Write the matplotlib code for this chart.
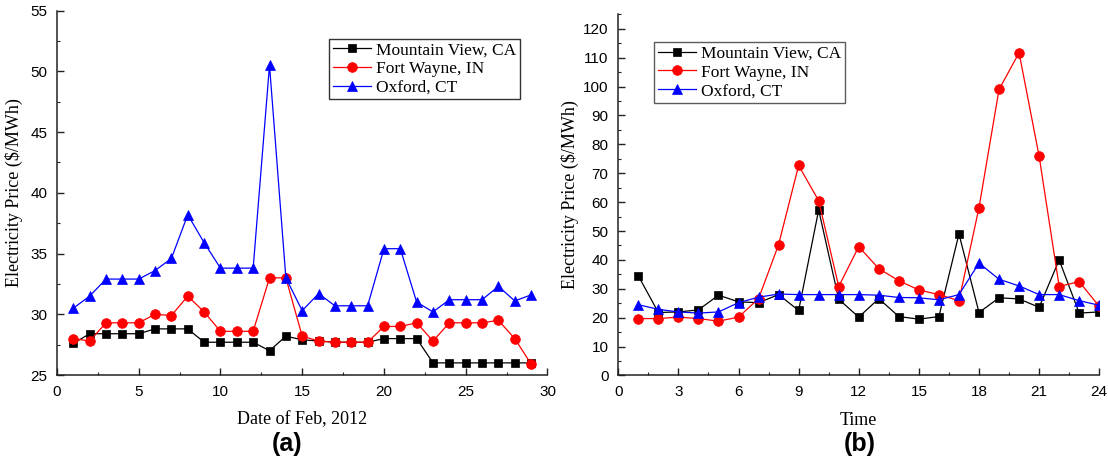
import matplotlib
matplotlib.use("Agg")
import matplotlib.pyplot as plt
from matplotlib.ticker import MultipleLocator

# ---- data ----
days = list(range(1, 30))
mv_a = [27.6, 28.4, 28.4, 28.4, 28.4, 28.8, 28.8, 28.8, 27.7, 27.7, 27.7, 27.7, 27.0, 28.2, 27.9,
        27.8, 27.7, 27.7, 27.7, 28.0, 28.0, 28.0, 26.0, 26.0, 26.0, 26.0, 26.0, 26.0, 26.0]
fw_a = [28.0, 27.8, 29.3, 29.3, 29.3, 30.0, 29.9, 31.5, 30.2, 28.6, 28.6, 28.6, 33.0, 33.0, 28.2,
        27.8, 27.7, 27.7, 27.7, 29.0, 29.0, 29.3, 27.8, 29.3, 29.3, 29.3, 29.5, 28.0, 25.9]
ox_a = [30.5, 31.5, 32.9, 32.9, 32.9, 33.6, 34.6, 38.2, 35.9, 33.8, 33.8, 33.8, 50.5, 33.0, 30.3,
        31.7, 30.7, 30.7, 30.7, 35.4, 35.4, 31.0, 30.2, 31.2, 31.2, 31.2, 32.3, 31.1, 31.6]

hours = list(range(1, 25))
mv_b = [34.5, 21.8, 22.0, 22.7, 27.8, 25.5, 25.2, 28.0, 22.5, 57.3, 26.4, 20.2, 26.6, 20.4, 19.5,
        20.4, 49.0, 21.8, 26.9, 26.5, 23.6, 40.0, 21.6, 22.0]
fw_b = [19.7, 19.7, 20.2, 19.7, 18.8, 20.2, 26.6, 45.3, 72.7, 60.5, 30.8, 44.6, 37.0, 32.8, 29.6,
        28.0, 25.9, 58.1, 99.0, 111.7, 75.9, 30.8, 32.5, 23.9]
ox_b = [24.5, 22.9, 22.0, 21.6, 22.0, 25.2, 27.1, 28.2, 28.0, 28.0, 28.0, 28.0, 27.8, 27.0, 26.9,
        26.2, 28.0, 38.9, 33.3, 31.0, 28.0, 28.0, 25.9, 24.3]

labels = ["Mountain View, CA", "Fort Wayne, IN", "Oxford, CT"]
a_xticks = [0, 5, 10, 15, 20, 25, 30]
a_yticks = [25, 30, 35, 40, 45, 50, 55]
b_xticks = [0, 3, 6, 9, 12, 15, 18, 21, 24]
b_yticks = list(range(0, 121, 10))

serif = ["Liberation Serif", "DejaVu Serif"]
sans = ["Liberation Sans", "DejaVu Sans"]

fig = plt.figure(figsize=(11.08, 4.63), dpi=100)
axA = fig.add_axes([0.0514, 0.190, 0.4427, 0.787])
axB = fig.add_axes([0.558, 0.189, 0.4341, 0.780])

styles = [dict(color="black", marker="s", ms=6),
          dict(color="red", marker="o", ms=7),
          dict(color="blue", marker="^", ms=7.5)]


def style_axes(ax):
    for s in ["top", "right"]:
        ax.spines[s].set_visible(False)
    for s in ["left", "bottom"]:
        ax.spines[s].set_linewidth(1.1)
        ax.spines[s].set_color("#222222")
    ax.tick_params(which="major", direction="in", length=5, width=1.0, labelsize=11,
                   color="#222222", pad=7)
    ax.tick_params(which="minor", direction="in", length=2.5, width=0.8, color="#222222")
    for lab in ax.get_xticklabels() + ax.get_yticklabels():
        lab.set_family(sans)


for ax, x, series in [(axA, days, [mv_a, fw_a, ox_a]), (axB, hours, [mv_b, fw_b, ox_b])]:
    for y, st, lab in zip(series, styles, labels):
        ax.plot(x, y, color=st["color"], marker=st["marker"], markersize=st["ms"],
                linewidth=0.9, label=lab, markeredgewidth=0.5, markeredgecolor=st["color"])

axA.set_xlim(0, 30)
axA.set_ylim(25, 55)
axA.set_xticks(a_xticks)
axA.set_yticks(a_yticks)
axA.xaxis.set_minor_locator(MultipleLocator(2.5))
axA.yaxis.set_minor_locator(MultipleLocator(2.5))

axB.set_xlim(0, 24)
axB.set_ylim(0, 125)
axB.set_xticks(b_xticks)
axB.set_yticks(b_yticks)
axB.xaxis.set_minor_locator(MultipleLocator(1.5))
axB.yaxis.set_minor_locator(MultipleLocator(5))

style_axes(axA)
style_axes(axB)

axA.set_xlabel("Date of Feb, 2012", family=serif, fontsize=13, labelpad=9)
axA.set_ylabel("Electricity Price ($/MWh)", family=serif, fontsize=13, labelpad=5)
axB.set_xlabel("Time", family=serif, fontsize=13, labelpad=9)
axB.set_ylabel("Electricity Price ($/MWh)", family=serif, fontsize=13, labelpad=3)

legA = axA.legend(loc="upper left", bbox_to_anchor=(0.555, 0.9235), prop={"family": serif, "size": 12.5},
                  frameon=True, fancybox=False, borderpad=0.2, labelspacing=0.15,
                  handlelength=2.2, handletextpad=0.3, borderaxespad=0)
legA.get_frame().set_edgecolor("black")
legA.get_frame().set_linewidth(1.0)

legB = axB.legend(loc="upper left", bbox_to_anchor=(0.0745, 0.923), prop={"family": serif, "size": 12.5},
                  frameon=True, fancybox=False, borderpad=0.2, labelspacing=0.15,
                  handlelength=2.2, handletextpad=0.3, borderaxespad=0)
legB.get_frame().set_edgecolor("#333333")
legB.get_frame().set_linewidth(1.0)

fig.text(287 / 1108, 1 - 444 / 463, "(a)", family=sans, fontweight="bold", fontsize=18,
         ha="center", va="center")
fig.text(860 / 1108, 1 - 444 / 463, "(b)", family=sans, fontweight="bold", fontsize=18,
         ha="center", va="center")

fig.savefig("out.png", dpi=100)
